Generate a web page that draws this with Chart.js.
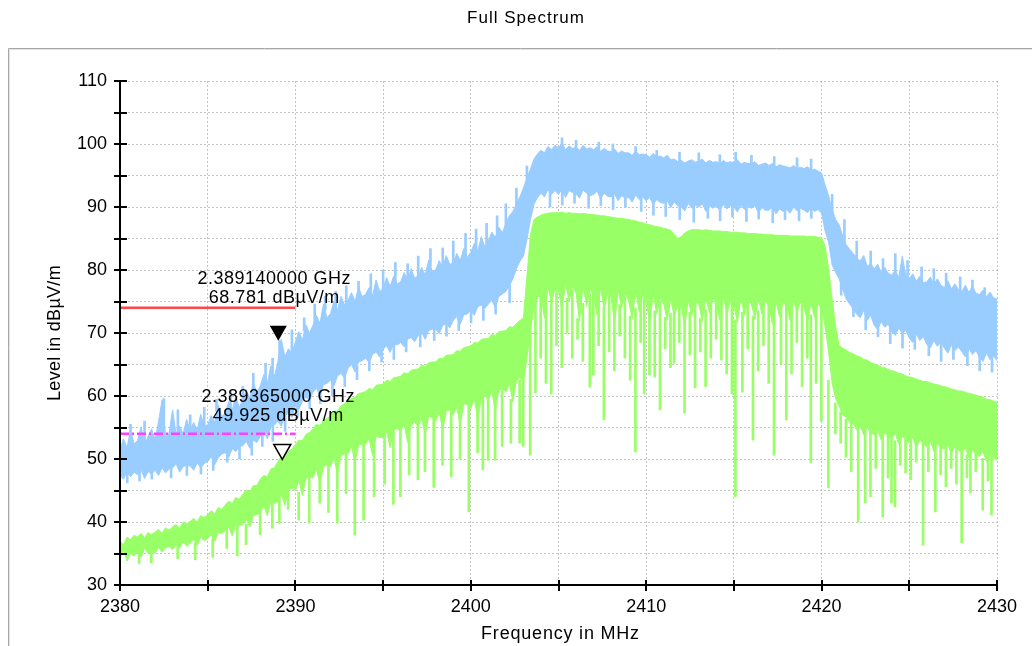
<!DOCTYPE html>
<html>
<head>
<meta charset="utf-8">
<script src="https://cdn.jsdelivr.net/npm/chart.js@4.4.1/dist/chart.umd.min.js"></script>
<style>
html, body { margin: 0; padding: 0; background: #fff; }
canvas { display: block; }
</style>
</head>
<body>
<canvas id="mycanvas" width="1032" height="646"></canvas>
<script>
// sweep: 2380 .. 2430 MHz, one reading every 0.2 MHz
var F_START = 2380, F_STEP = 0.2;

var X_LABELS = [2380, 2390, 2400, 2410, 2420, 2430];
var Y_LABELS = [30, 40, 50, 60, 70, 80, 90, 100, 110];

// peak trace (blue) - top and bottom of the noise band
var blueHi = [
  51.5, 53.2, 51.8, 54.6, 52.4,  52.9, 55.1, 52.2, 53.6, 54.8,
  53.1, 56.0, 59.4, 53.4, 54.2,  57.8, 53.9, 55.2, 54.0, 56.3,
  54.5, 55.8, 54.6, 57.1, 55.3,  55.4, 56.9, 55.8, 58.6, 56.7,
  57.3, 59.1, 57.8, 59.9, 58.2,  59.4, 61.0, 59.6, 62.2, 60.5,
  61.6, 63.4, 62.0, 64.8, 63.1,  65.4, 69.0, 66.2, 67.5, 66.8,
  68.6, 70.2, 68.9, 71.3, 70.0,  71.2, 72.8, 71.5, 74.6, 72.4,
  73.1, 75.0, 73.6, 75.8, 74.5,  75.2, 76.4, 75.0, 77.3, 75.8,
  76.1, 77.2, 75.9, 78.4, 76.6,  77.0, 78.8, 77.4, 79.0, 77.8,
  78.1, 79.6, 78.3, 80.2, 78.7,  79.1, 80.4, 79.2, 81.6, 79.8,
  80.0, 81.5, 80.4, 82.3, 80.9,  81.1, 82.6, 81.5, 83.4, 82.0,
  82.8, 84.2, 83.0, 85.3, 83.6,  84.6, 86.0, 85.2, 86.8, 85.9,
  87.4, 88.6, 89.3, 90.5, 91.6,  93.0, 94.6, 96.0, 97.6, 98.4,
  99.0, 98.6, 99.6, 99.1, 99.8,  99.4, 100.2, 99.1, 99.7, 99.3,
  99.5, 99.0, 99.8, 99.2, 99.4,  99.1, 99.6, 98.8, 99.3, 98.9,
  98.8, 99.2, 98.5, 98.9, 98.6,  98.6, 98.2, 98.9, 98.3, 98.4,
  98.3, 97.9, 98.5, 98.0, 98.1,  97.8, 98.2, 97.5, 97.6, 97.2,
  97.4, 97.0, 97.3, 97.5, 97.1,  97.3, 97.6, 97.0, 97.4, 97.1,
  97.2, 96.9, 97.4, 97.0, 97.2,  97.0, 97.5, 96.8, 97.1, 96.9,
  96.9, 97.2, 96.6, 96.8, 97.0,  96.6, 96.9, 96.4, 96.7, 96.5,
  96.4, 96.2, 96.6, 96.1, 96.3,  96.1, 96.4, 95.8, 96.0, 95.7,
  95.4, 93.5, 91.8, 89.6, 88.0,  87.2, 85.4, 84.0, 83.3, 82.6,
  82.0, 81.4, 82.3, 80.6, 81.0,  80.2, 80.9, 79.6, 80.4, 79.5,
  79.2, 80.0, 78.8, 82.2, 79.1,  78.6, 79.4, 78.2, 79.0, 78.0,
  78.1, 78.9, 77.7, 78.6, 77.6,  77.2, 78.3, 77.0, 77.8, 76.9,
  76.6, 77.6, 76.4, 77.5, 76.3,  76.1, 76.8, 75.7, 76.5, 75.6,
  75.4
];
var blueLo = [
  47.4, 46.8, 48.0, 47.2, 47.9,  47.5, 48.3, 46.9, 48.0, 47.6,
  48.2, 47.4, 48.6, 47.8, 48.4,  48.6, 49.2, 47.9, 48.8, 49.0,
  48.9, 48.2, 49.4, 48.6, 49.3,  49.6, 50.4, 49.1, 50.2, 50.8,
  51.0, 50.3, 51.6, 51.2, 52.0,  52.1, 52.8, 51.7, 53.0, 52.6,
  53.6, 54.5, 53.2, 55.0, 55.4,  56.0, 55.2, 56.8, 57.4, 56.6,
  58.6, 57.9, 59.2, 59.8, 59.3,  60.6, 61.3, 60.0, 61.8, 62.0,
  62.5, 61.6, 63.2, 63.6, 62.8,  64.4, 65.0, 63.8, 65.4, 65.6,
  66.0, 65.3, 66.6, 67.0, 66.2,  67.4, 68.0, 66.9, 68.3, 68.1,
  68.5, 67.8, 69.0, 69.3, 68.6,  69.6, 70.1, 69.0, 70.4, 70.6,
  70.6, 69.9, 71.2, 71.5, 70.8,  72.0, 72.6, 71.4, 72.9, 73.0,
  73.6, 72.8, 74.2, 74.4, 73.9,  74.6, 75.2, 74.0, 75.8, 76.2,
  76.6, 77.5, 78.6, 80.2, 81.4,  82.2, 84.8, 88.0, 90.4, 91.5,
  92.2, 91.6, 92.8, 92.0, 92.6,  92.0, 92.9, 91.5, 92.6, 92.3,
  92.1, 91.4, 92.7, 92.2, 91.8,  92.0, 92.5, 91.3, 92.2, 91.7,
  91.6, 92.1, 91.0, 91.8, 91.4,  91.5, 90.8, 91.9, 91.2, 91.6,
  91.0, 91.5, 90.4, 91.2, 90.7,  90.6, 91.0, 89.9, 90.8, 90.2,
  90.0, 89.4, 90.6, 89.8, 90.3,  90.0, 90.5, 89.3, 90.2, 89.8,
  90.1, 89.5, 90.4, 89.7, 90.2,  90.0, 89.2, 90.3, 89.6, 90.1,
  89.8, 90.2, 89.1, 89.9, 89.5,  89.5, 90.0, 88.9, 89.7, 89.3,
  89.6, 89.0, 90.0, 89.4, 89.8,  89.5, 89.1, 89.9, 89.3, 89.6,
  89.0, 86.2, 84.4, 80.8, 79.6,  78.6, 77.0, 75.4, 74.6, 73.8,
  73.0, 72.4, 73.6, 72.0, 72.8,  71.2, 70.6, 71.8, 70.9, 71.4,
  70.2, 69.6, 70.8, 69.9, 70.4,  69.2, 68.5, 69.8, 68.8, 69.4,
  68.2, 67.6, 68.8, 67.9, 68.5,  67.6, 66.8, 68.1, 67.2, 67.8,
  67.0, 66.2, 67.5, 66.6, 67.2,  66.2, 65.5, 66.8, 65.8, 66.4,
  65.6
];

// single narrow peaks above and dips below the blue band
var bluePeakFreq = [
  2380.6, 2381.4, 2382.5, 2383.3, 2384.0, 2384.8, 2385.5, 2386.3, 2387.0, 2387.6,
  2388.3, 2388.7, 2389.1, 2389.8, 2390.5, 2391.1, 2391.7, 2392.3, 2392.9, 2393.6,
  2394.3, 2395.0, 2395.7, 2396.4, 2397.0, 2397.7, 2398.4, 2399.0, 2399.7, 2400.3,
  2400.9, 2401.5, 2402.0, 2402.6, 2403.2, 2405.2, 2406.0, 2407.3, 2408.1, 2409.4,
  2410.6, 2411.9, 2413.0, 2414.2, 2415.1, 2416.0, 2417.3, 2418.6, 2419.4, 2420.6,
  2421.3, 2422.0, 2422.8, 2423.5, 2424.2, 2424.9, 2425.7, 2426.4, 2427.1, 2427.9,
  2428.6, 2429.3
];
var bluePeakLevel = [
  55.5, 56.0, 59.6, 57.8, 57.0, 58.2, 59.5, 60.8, 61.5, 63.6,
  65.2, 66.0, 68.8, 70.5, 72.4, 74.6, 75.8, 76.6, 77.5, 78.2,
  79.4, 80.0, 81.2, 81.0, 82.2, 83.4, 83.5, 84.6, 85.8, 86.5,
  87.4, 88.6, 90.5, 93.0, 96.5, 101.0, 100.6, 100.3, 100.0, 99.6,
  99.0, 98.7, 98.6, 98.3, 98.7, 98.2, 98.0, 97.8, 97.6, 92.0,
  88.0, 84.6, 83.0, 81.8, 82.6, 81.5, 80.5, 80.2, 79.5, 78.9,
  78.4, 77.2
];
var blueDipFreq = [
  2380.3, 2381.0, 2381.7, 2382.8, 2383.7, 2384.5, 2385.2, 2386.0, 2386.7, 2387.4,
  2388.0, 2388.6, 2389.3, 2390.0, 2390.7, 2391.3, 2392.0, 2392.7, 2393.4, 2394.1,
  2394.8, 2395.5, 2396.2, 2397.0, 2397.8, 2398.5, 2399.2, 2399.9, 2400.6, 2401.3,
  2402.1, 2404.4, 2405.1, 2405.8, 2406.6, 2407.3, 2408.0, 2408.7, 2409.6, 2410.3,
  2411.0, 2411.8, 2412.6, 2413.4, 2414.1, 2414.8, 2415.6, 2416.3, 2417.1, 2417.8,
  2418.6, 2419.3, 2421.0, 2421.7, 2422.4, 2423.1, 2423.8, 2424.5, 2425.2, 2426.0,
  2426.7, 2427.4, 2428.2, 2428.9, 2429.6
];
var blueDipLevel = [
  46.2, 46.5, 46.8, 47.0, 47.4, 47.6, 48.2, 49.5, 50.0, 50.6,
  52.0, 52.8, 54.4, 56.6, 58.0, 58.8, 60.0, 61.5, 62.6, 64.0,
  65.4, 65.8, 67.0, 67.8, 68.8, 69.5, 70.4, 71.6, 72.0, 73.0,
  74.8, 90.0, 90.3, 90.6, 89.8, 90.2, 89.6, 90.0, 89.3, 88.7,
  88.5, 88.0, 87.6, 88.2, 87.8, 88.4, 87.7, 88.1, 87.5, 88.0,
  87.8, 88.2, 76.0, 72.6, 70.5, 69.4, 68.3, 67.6, 67.4, 66.4,
  65.5, 65.8, 64.8, 64.0, 63.8
];

// average trace (green) - top edge and dense lower edge
var greenHi = [
  37.0, 36.4, 37.6, 37.2, 37.9,  37.6, 38.2, 37.5, 38.3, 38.0,
  38.4, 38.8, 38.2, 39.1, 38.7,  39.2, 39.6, 39.0, 40.0, 39.7,
  40.1, 40.6, 40.0, 41.0, 40.7,  41.2, 41.8, 41.3, 42.3, 42.0,
  42.7, 43.3, 42.9, 43.9, 43.6,  44.4, 45.1, 44.8, 45.8, 45.8,
  46.8, 47.4, 47.2, 48.4, 48.6,  49.6, 50.4, 50.2, 51.2, 51.6,
  52.3, 53.0, 52.9, 53.9, 54.2,  54.8, 55.5, 55.3, 56.2, 56.4,
  56.9, 57.6, 57.6, 58.4, 58.8,  59.3, 59.6, 59.8, 60.4, 60.5,
  60.7, 61.2, 61.0, 61.7, 61.8,  61.9, 62.5, 62.3, 62.9, 63.0,
  63.1, 63.7, 63.5, 64.1, 64.2,  64.3, 64.9, 64.7, 65.3, 65.4,
  65.4, 66.0, 65.9, 66.5, 66.5,  66.6, 67.2, 67.1, 67.7, 67.8,
  67.9, 68.5, 68.4, 69.0, 69.1,  69.1, 69.8, 69.6, 70.2, 70.3,
  70.4, 71.0, 70.9, 71.5, 72.0,  72.4, 79.0, 85.6, 88.0, 88.4,
  88.7, 88.9, 89.0, 89.1, 89.1,  89.1, 89.2, 89.0, 89.1, 89.0,
  89.0, 88.9, 89.0, 88.9, 88.8,  88.8, 88.7, 88.6, 88.6, 88.5,
  88.4, 88.3, 88.2, 88.2, 88.1,  88.0, 87.9, 87.8, 87.6, 87.5,
  87.3, 87.2, 87.0, 86.9, 86.8,  86.6, 86.5, 86.3, 85.6, 85.0,
  85.3, 85.9, 86.2, 86.4, 86.4,  86.4, 86.3, 86.4, 86.3, 86.2,
  86.2, 86.2, 86.1, 86.1, 86.0,  86.0, 86.0, 85.9, 85.9, 85.8,
  85.8, 85.8, 85.7, 85.7, 85.6,  85.6, 85.6, 85.5, 85.5, 85.5,
  85.5, 85.4, 85.4, 85.4, 85.4,  85.4, 85.3, 85.3, 85.3, 85.2,
  85.1, 83.8, 80.2, 75.4, 71.0,  68.0, 67.6, 67.3, 66.9, 66.7,
  66.4, 66.2, 65.8, 65.7, 65.3,  65.1, 64.9, 64.6, 64.5, 64.2,
  64.0, 63.9, 63.6, 63.5, 63.2,  63.0, 62.9, 62.7, 62.5, 62.3,
  62.3, 62.1, 61.9, 61.8, 61.6,  61.5, 61.3, 61.1, 61.0, 60.8,
  60.8, 60.6, 60.4, 60.3, 60.1,  60.0, 59.8, 59.5, 59.4, 59.2,
  59.0
];
var greenLo = [
  34.2, 35.6, 33.8, 35.0, 34.6,  35.2, 34.4, 35.8, 35.0, 35.4,
  35.0, 36.0, 35.2, 35.9, 36.1,  35.6, 36.4, 35.9, 36.8, 36.2,
  36.6, 37.3, 36.2, 37.6, 37.0,  37.4, 38.0, 36.9, 38.3, 38.2,
  38.6, 39.2, 37.8, 39.6, 39.4,  39.6, 40.4, 39.2, 41.0, 41.2,
  41.4, 42.6, 41.0, 43.2, 43.0,  43.2, 44.4, 42.6, 45.0, 45.4,
  45.0, 46.6, 44.2, 47.0, 47.2,  47.0, 48.4, 46.0, 48.8, 49.0,
  48.8, 50.2, 47.6, 50.6, 50.8,  50.8, 52.0, 49.4, 52.2, 52.4,
  52.4, 53.2, 50.6, 53.6, 53.4,  53.4, 54.4, 51.8, 54.6, 54.8,
  54.4, 55.6, 52.6, 55.4, 55.8,  55.2, 56.4, 53.8, 56.8, 56.6,
  56.0, 57.4, 54.6, 57.6, 57.8,  57.0, 58.2, 55.4, 58.8, 58.6,
  58.0, 59.6, 56.2, 59.8, 60.0,  59.4, 60.8, 57.6, 61.0, 61.2,
  60.6, 62.0, 59.0, 62.4, 63.0,  62.0, 66.0, 70.4, 74.0, 75.6,
  76.0, 72.4, 77.4, 74.8, 77.0,  76.8, 73.6, 78.0, 75.0, 77.4,
  76.4, 71.8, 77.6, 74.2, 77.0,  75.8, 72.8, 77.2, 73.6, 76.4,
  75.6, 71.6, 76.8, 74.0, 76.2,  75.2, 72.2, 76.6, 73.4, 76.0,
  75.0, 71.4, 76.2, 73.0, 75.6,  74.6, 72.0, 75.4, 72.6, 74.4,
  74.0, 71.2, 75.2, 72.8, 75.0,  74.6, 71.8, 75.6, 73.2, 75.4,
  74.8, 72.0, 75.8, 73.0, 75.2,  74.4, 71.6, 75.6, 72.8, 75.0,
  74.6, 72.2, 75.4, 73.0, 75.2,  74.2, 71.4, 75.0, 72.6, 74.8,
  74.4, 72.0, 75.2, 73.2, 75.0,  74.0, 71.8, 74.8, 72.4, 74.6,
  73.8, 71.0, 67.0, 62.0, 59.6,  58.4, 57.0, 56.6, 55.8, 55.6,
  54.6, 55.2, 53.8, 55.0, 54.2,  53.8, 54.6, 53.0, 54.2, 53.6,
  53.2, 54.0, 52.4, 53.6, 53.0,  52.6, 53.4, 51.8, 53.0, 52.4,
  52.0, 52.8, 51.2, 52.4, 51.8,  51.6, 52.4, 50.8, 52.0, 51.4,
  51.0, 51.8, 50.2, 51.4, 50.8,  50.4, 51.2, 49.6, 50.8, 50.2,
  49.8
];

// single deep drop-outs of the green trace: frequency (MHz) and level
var spikeFreq = [
  2381.2, 2381.9, 2383.4, 2384.4, 2385.4, 2386.2, 2386.8, 2387.3, 2388.1, 2388.8,
  2389.2, 2389.7, 2390.3, 2390.9, 2391.5, 2392.0, 2392.5, 2393.0, 2393.5, 2394.0,
  2394.6, 2395.2, 2395.7, 2396.1, 2396.6, 2397.1, 2397.5, 2398.0, 2398.5, 2399.0,
  2399.5, 2400.0, 2400.5, 2400.8, 2401.1, 2401.5, 2401.9, 2402.4, 2402.9, 2403.1,
  2403.5, 2403.8, 2404.1, 2404.4, 2404.7, 2405.0, 2405.3, 2405.6, 2405.9, 2406.2,
  2406.5, 2406.9, 2407.1, 2407.4, 2407.7, 2408.0, 2408.3, 2408.6, 2408.9, 2409.2,
  2409.5, 2409.8, 2410.0, 2410.3, 2410.6, 2410.9, 2411.2, 2411.5, 2411.7, 2412.0,
  2412.3, 2412.6, 2412.9, 2413.2, 2413.5, 2413.8, 2414.1, 2414.4, 2414.7, 2415.0,
  2415.2, 2415.6, 2415.9, 2416.2, 2416.5, 2416.8, 2417.1, 2417.4, 2417.8, 2418.1,
  2418.4, 2418.7, 2419.0, 2419.3, 2419.5, 2419.8, 2420.1, 2420.5, 2420.9, 2421.2,
  2421.5, 2421.8, 2422.2, 2422.6, 2422.9, 2423.2, 2423.6, 2423.9, 2424.1, 2424.3,
  2424.6, 2424.9, 2425.2, 2425.5, 2425.9, 2426.2, 2426.6, 2426.9, 2427.2, 2427.5,
  2427.8, 2428.1, 2428.4, 2428.6, 2428.9, 2429.3, 2429.6, 2429.8
];
var spikeLevel = [
  33.4, 33.5, 34.2, 34.0, 34.4, 35.8, 34.6, 36.4, 38.0, 39.0,
  39.8, 42.0, 40.3, 39.8, 43.0, 41.5, 39.8, 44.5, 37.9, 40.3,
  44.0, 46.0, 42.8, 44.0, 47.5, 46.7, 48.0, 45.5, 49.0, 47.2,
  50.0, 41.6, 51.0, 48.3, 49.8, 49.8, 52.0, 52.5, 52.5, 52.0,
  50.6, 60.5, 66.0, 62.0, 60.3, 68.0, 64.5, 70.0, 66.0, 69.0,
  65.5, 61.4, 63.3, 68.0, 56.2, 67.0, 64.0, 69.5, 66.0, 62.5,
  51.1, 68.5, 60.3, 63.3, 63.0, 57.8, 67.5, 64.5, 65.2, 68.5,
  57.3, 66.5, 61.3, 67.0, 61.5, 66.0, 69.0, 65.7, 63.5, 60.3,
  44.0, 60.6, 67.5, 53.0, 64.0, 68.0, 62.0, 50.6, 65.0, 56.2,
  63.5, 68.5, 61.5, 66.0, 49.4, 62.0, 56.0, 45.4, 54.0, 52.5,
  50.3, 48.0, 40.0, 43.0, 44.0, 48.5, 40.8, 47.0, 43.0, 42.4,
  49.0, 47.8, 46.7, 49.5, 36.3, 48.0, 41.6, 47.5, 45.6, 48.5,
  46.0, 36.7, 47.0, 44.6, 48.0, 41.9, 46.5, 41.1
];

// limit lines and markers
var limitPeak = 74, limitAvg = 54;
var limitStart = 2380, limitEnd = 2390;
var markerFreq = [2389.14, 2389.365];
var markerLevel = [68.781, 49.925];
var markerText1 = ['2.389140000 GHz', '2.389365000 GHz'];
var markerText2 = ['68.781 dB\u00b5V/m', '49.925 dB\u00b5V/m'];

var BLUE = '#99ccff', GREEN = '#99ff66';
var FONT = '"Liberation Sans", Arial, sans-serif';

var freqs = [];
for (var i = 0; i < blueHi.length; i++) freqs.push(+(F_START + i * F_STEP).toFixed(1));

function toPoints(vals) {
  return vals.map(function (v, i) { return { x: freqs[i], y: v }; });
}
function nearest(arr, f) {
  return arr[Math.round((f - F_START) / F_STEP)];
}

var greenDrops = spikeFreq.map(function (f, i) {
  return { x: f, y: [spikeLevel[i], nearest(greenLo, f) + 0.5] };
});
var bluePeaks = bluePeakFreq.map(function (f, i) {
  return { x: f, y: [nearest(blueHi, f) - 1, bluePeakLevel[i]] };
});
var blueDips = blueDipFreq.map(function (f, i) {
  return { x: f, y: [blueDipLevel[i], nearest(blueLo, f) + 1] };
});

var framePlugin = {
  id: 'frame',
  beforeDraw: function (chart) {
    var ctx = chart.ctx;
    ctx.save();
    ctx.fillStyle = '#fff';
    ctx.fillRect(0, 0, chart.width, chart.height);
    ctx.strokeStyle = '#a8a8a8';
    ctx.lineWidth = 1;
    ctx.beginPath();
    ctx.moveTo(8.5, chart.height); ctx.lineTo(8.5, 48.5); ctx.lineTo(chart.width, 48.5);
    ctx.stroke();
    ctx.strokeStyle = '#e2e2e2';
    ctx.beginPath();
    ctx.moveTo(9.5, chart.height); ctx.lineTo(9.5, 49.5); ctx.lineTo(chart.width, 49.5);
    ctx.stroke();
    ctx.restore();
  },
  afterDraw: function (chart) {
    var ctx = chart.ctx, a = chart.chartArea;
    ctx.save();
    ctx.fillStyle = '#000';
    ctx.textAlign = 'center';
    ctx.textBaseline = 'middle';
    ctx.letterSpacing = '1px';
    ctx.font = '17px ' + FONT;
    ctx.fillText('Full Spectrum', 526, 18);
    ctx.letterSpacing = '0.8px';
    ctx.font = '18px ' + FONT;
    ctx.fillText('Frequency in MHz', (a.left + a.right) / 2 + 2, 634);
    ctx.letterSpacing = '0.3px';
    ctx.translate(55, (a.top + a.bottom) / 2);
    ctx.rotate(-Math.PI / 2);
    ctx.fillText('Level in dB\u00b5V/m', 0, 0);
    ctx.restore();
  }
};

var axesPlugin = {
  id: 'axesAndMarkers',
  afterDatasetsDraw: function (chart) {
    var ctx = chart.ctx, a = chart.chartArea, xs = chart.scales.x, ys = chart.scales.y;
    ctx.save();
    // axis lines with ticks crossing them every 5 units
    ctx.strokeStyle = '#000';
    ctx.lineWidth = 2;
    ctx.beginPath();
    ctx.moveTo(a.left, a.top - 1); ctx.lineTo(a.left, a.bottom); ctx.lineTo(a.right + 1, a.bottom);
    for (var v = ys.min; v <= ys.max; v += 5) {
      var y = Math.round(ys.getPixelForValue(v));
      ctx.moveTo(a.left - 6, y); ctx.lineTo(a.left + 7, y);
    }
    for (var f = xs.min; f <= xs.max; f += 5) {
      var x = Math.round(xs.getPixelForValue(f));
      ctx.moveTo(x, a.bottom - 5); ctx.lineTo(x, a.bottom + 6);
    }
    ctx.stroke();

    // markers: triangle tip sits on the marker level
    ctx.lineWidth = 1.5;
    ctx.font = '18px ' + FONT;
    ctx.letterSpacing = '0.5px';
    ctx.textAlign = 'center';
    ctx.textBaseline = 'middle';
    for (var i = 0; i < markerFreq.length; i++) {
      var mx = xs.getPixelForValue(markerFreq[i]) - 2;
      var my = ys.getPixelForValue(markerLevel[i]);
      ctx.beginPath();
      ctx.moveTo(mx, my); ctx.lineTo(mx - 8.5, my - 15); ctx.lineTo(mx + 8.5, my - 15); ctx.closePath();
      if (i === 0) { ctx.fillStyle = '#000'; ctx.fill(); }
      else { ctx.fillStyle = '#fff'; ctx.fill(); ctx.strokeStyle = '#000'; ctx.stroke(); }
      ctx.fillStyle = '#000';
      ctx.fillText(markerText1[i], mx - 4, my - 62);
      ctx.fillText(markerText2[i], mx - 4, my - 43);
    }
    ctx.restore();
  }
};

var ctx = document.getElementById('mycanvas');

var chart = new Chart(ctx, {
  type: 'line',
  data: {
    datasets: [
      { label: 'peak lo', data: toPoints(blueLo), borderColor: BLUE, backgroundColor: BLUE,
        borderWidth: 1, pointRadius: 0, fill: false, order: 3 },
      { label: 'peak hi', data: toPoints(blueHi), borderColor: BLUE, backgroundColor: BLUE,
        borderWidth: 1, pointRadius: 0, fill: '-1', order: 3 },
      { type: 'bar', label: 'peak spikes', data: bluePeaks, backgroundColor: BLUE,
        borderWidth: 0, barThickness: 2, order: 3 },
      { type: 'bar', label: 'peak dips', data: blueDips, backgroundColor: BLUE,
        borderWidth: 0, barThickness: 2, order: 3 },
      { label: 'avg lo', data: toPoints(greenLo), borderColor: GREEN, backgroundColor: GREEN,
        borderWidth: 1, pointRadius: 0, fill: false, order: 2 },
      { label: 'avg hi', data: toPoints(greenHi), borderColor: GREEN, backgroundColor: GREEN,
        borderWidth: 1, pointRadius: 0, fill: '-1', order: 2 },
      { type: 'bar', label: 'avg drops', data: greenDrops, backgroundColor: GREEN,
        borderWidth: 0, barThickness: 2, order: 2 },
      { label: 'peak limit', data: [{ x: limitStart, y: limitPeak }, { x: limitEnd, y: limitPeak }],
        borderColor: '#ff4848', borderWidth: 2.5, pointRadius: 0, fill: false, order: 1 },
      { label: 'avg limit', data: [{ x: limitStart, y: limitAvg }, { x: limitEnd, y: limitAvg }],
        borderColor: '#ff40ff', borderWidth: 2.5, borderDash: [9, 3, 2, 3], pointRadius: 0,
        fill: false, order: 1 }
    ]
  },
  options: {
    responsive: false,
    devicePixelRatio: 1,
    animation: false,
    events: [],
    layout: { padding: { left: 0, top: 81, right: 35, bottom: 0 } },
    plugins: { legend: { display: false }, tooltip: { enabled: false }, title: { display: false } },
    scales: {
      x: {
        type: 'linear', min: 2380, max: 2430, offset: false,
        afterFit: function (s) { s.height = 61; },
        grid: { color: '#c4c4c4', lineWidth: 1, drawTicks: false, offset: false },
        border: { display: false, dash: [2, 2] },
        ticks: {
          stepSize: 5, autoSkip: false, maxRotation: 0, padding: 11, color: '#000',
          font: { family: FONT, size: 18 },
          callback: function (v) { return X_LABELS.indexOf(v) >= 0 ? String(v) : ''; }
        }
      },
      y: {
        type: 'linear', min: 30, max: 110,
        afterFit: function (s) { s.width = 120; },
        grid: { color: '#c4c4c4', lineWidth: 1, drawTicks: false },
        border: { display: false, dash: [2, 2] },
        ticks: {
          stepSize: 5, autoSkip: false, padding: 13, color: '#000',
          font: { family: FONT, size: 18 },
          callback: function (v) { return Y_LABELS.indexOf(v) >= 0 ? String(v) : ''; }
        }
      }
    }
  },
  plugins: [framePlugin, axesPlugin]
});
</script>
</body>
</html>
